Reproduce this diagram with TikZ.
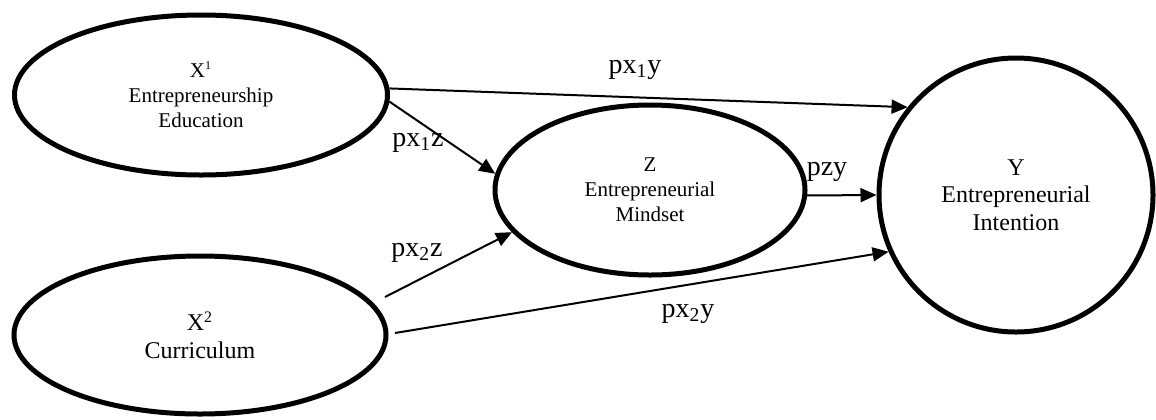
\documentclass[tikz,border=0pt]{standalone}
\usepackage{fontspec}
\setmainfont{Liberation Serif}
\usetikzlibrary{shapes.geometric,arrows.meta,calc}
\begin{document}
\begin{tikzpicture}[x=0.5pt,y=-0.5pt,
  latent/.style={draw,ellipse,line width=2.5pt,inner sep=0pt,align=center},
  smalltxt/.style={font=\fontsize{10.5}{12.5}\selectfont},
  bigtxt/.style={font=\fontsize{12}{13.8}\selectfont},
  conn/.style={-{Triangle[length=8pt,width=7pt]},line width=1pt},
  lbl/.style={font=\fontsize{14}{16}\selectfont,inner sep=0pt}]
\useasboundingbox (0,0) rectangle (1156,419);
% latent variables
\node[latent,smalltxt,minimum width=186.5pt,minimum height=80pt] (X1) at (201,95)
  {X\textsuperscript{\fontsize{6}{7}\selectfont 1}\\Entrepreneurship\\Education};
\node[latent,bigtxt,minimum width=186pt,minimum height=79pt] (X2) at (200,335)
  {X\textsuperscript{2}\\Curriculum};
\node[latent,smalltxt,minimum width=155pt,minimum height=85pt] (Z) at (650,190)
  {Z\\Entrepreneurial\\Mindset};
\node[draw,circle,line width=2.5pt,inner sep=0pt,minimum size=137pt,bigtxt,align=center] (Y) at (1016,195)
  {Y\\Entrepreneurial\\Intention};
% paths
\draw[conn] (X1.2.5) -- (Y.141);
\draw[conn] (X1.-2) -- (Z.174);
\draw[conn] ($(X2.center)+(185,-38)$) -- (Z.197);
\draw[conn] ($(X2.center)+(195,-2)$) -- (Y.204);
\draw[conn] (Z.-2) -- (Y.180);
% labels
\node[lbl] (l1) at (635,70) {px\textsubscript{1}y};
\node[lbl] (l2) at (418,143) {px\textsubscript{1}z};
\node[lbl] (l3) at (417,253) {px\textsubscript{2}z};
\node[lbl] (l4) at (827,172) {pzy};
\node[lbl] (l5) at (688,314) {px\textsubscript{2}y};
\end{tikzpicture}
\end{document}
